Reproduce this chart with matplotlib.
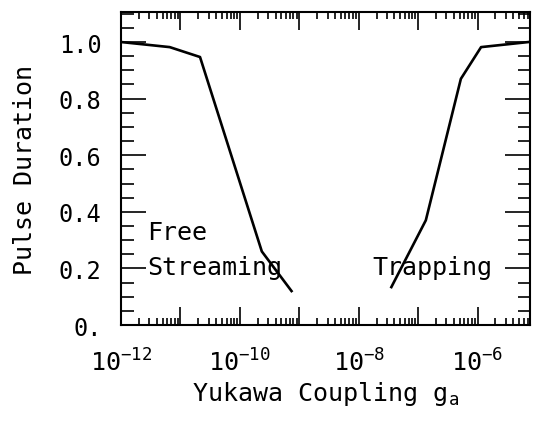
import matplotlib
matplotlib.use("Agg")
import matplotlib.pyplot as plt
from matplotlib.ticker import LogLocator, FixedLocator, MultipleLocator, NullFormatter

plt.rcParams['font.family'] = ['DejaVu Sans Mono']
plt.rcParams['mathtext.fontset'] = 'custom'
plt.rcParams['mathtext.rm'] = 'DejaVu Sans Mono'
plt.rcParams['mathtext.it'] = 'DejaVu Sans Mono'

# Free streaming branch
free_g = [1e-12, 10**-11.18, 10**-10.67, 10**-9.63, 10**-9.13]
free_d = [1.0, 0.982, 0.947, 0.26, 0.12]
# Trapping branch
trap_g = [10**-7.45, 10**-6.87, 10**-6.28, 10**-5.94, 10**-5.14]
trap_d = [0.134, 0.37, 0.87, 0.982, 1.0]

ytick_vals = [0.0, 0.2, 0.4, 0.6, 0.8, 1.0]
ytick_labels = ["0.", "0.2", "0.4", "0.6", "0.8", "1.0"]
xtick_vals = [1e-12, 1e-10, 1e-8, 1e-6]
xtick_labels = [r"$10^{-12}$", r"$10^{-10}$", r"$10^{-8}$", r"$10^{-6}$"]

fig = plt.figure(figsize=(5.33, 4.27), dpi=100)
ax = fig.add_axes([0.227, 0.2365, 0.767, 0.733])

ax.plot(free_g, free_d, color='black', lw=1.9)
ax.plot(trap_g, trap_d, color='black', lw=1.9)

ax.set_xscale('log')
ax.set_xlim(1e-12, 10**-5.12)
ax.set_ylim(0, 1.106)

ax.xaxis.set_major_locator(LogLocator(base=10, numticks=20))
ax.xaxis.set_minor_locator(LogLocator(base=10, subs=range(2, 10), numticks=100))
ax.xaxis.set_minor_formatter(NullFormatter())

def xfmt(v, p):
    for t, l in zip(xtick_vals, xtick_labels):
        if abs(v / t - 1) < 1e-6:
            return l
    return ""
ax.xaxis.set_major_formatter(plt.FuncFormatter(xfmt))

ax.yaxis.set_major_locator(FixedLocator(ytick_vals))
ax.set_yticklabels(ytick_labels)
ax.yaxis.set_minor_locator(MultipleLocator(0.05))

ax.tick_params(which='both', direction='in', top=True, right=True, width=1.2)
ax.tick_params(axis='x', which='major', length=13, labelsize=18, pad=17)
ax.tick_params(axis='x', which='minor', length=5)
ax.tick_params(axis='y', which='major', length=18, labelsize=17, pad=14)
ax.tick_params(axis='y', which='minor', length=9)
for s in ax.spines.values():
    s.set_linewidth(1.5)

ax.set_ylabel("Pulse Duration", fontsize=18, labelpad=16)
ax.set_xlabel("Yukawa Coupling g$_a$", fontsize=18, labelpad=2)

ax.text(10**-11.56, 0.33, "Free", fontsize=18, va='center', ha='left')
ax.text(10**-11.56, 0.205, "Streaming", fontsize=18, va='center', ha='left')
ax.text(10**-7.77, 0.205, "Trapping", fontsize=18, va='center', ha='left')

fig.savefig("out.png", dpi=100)
